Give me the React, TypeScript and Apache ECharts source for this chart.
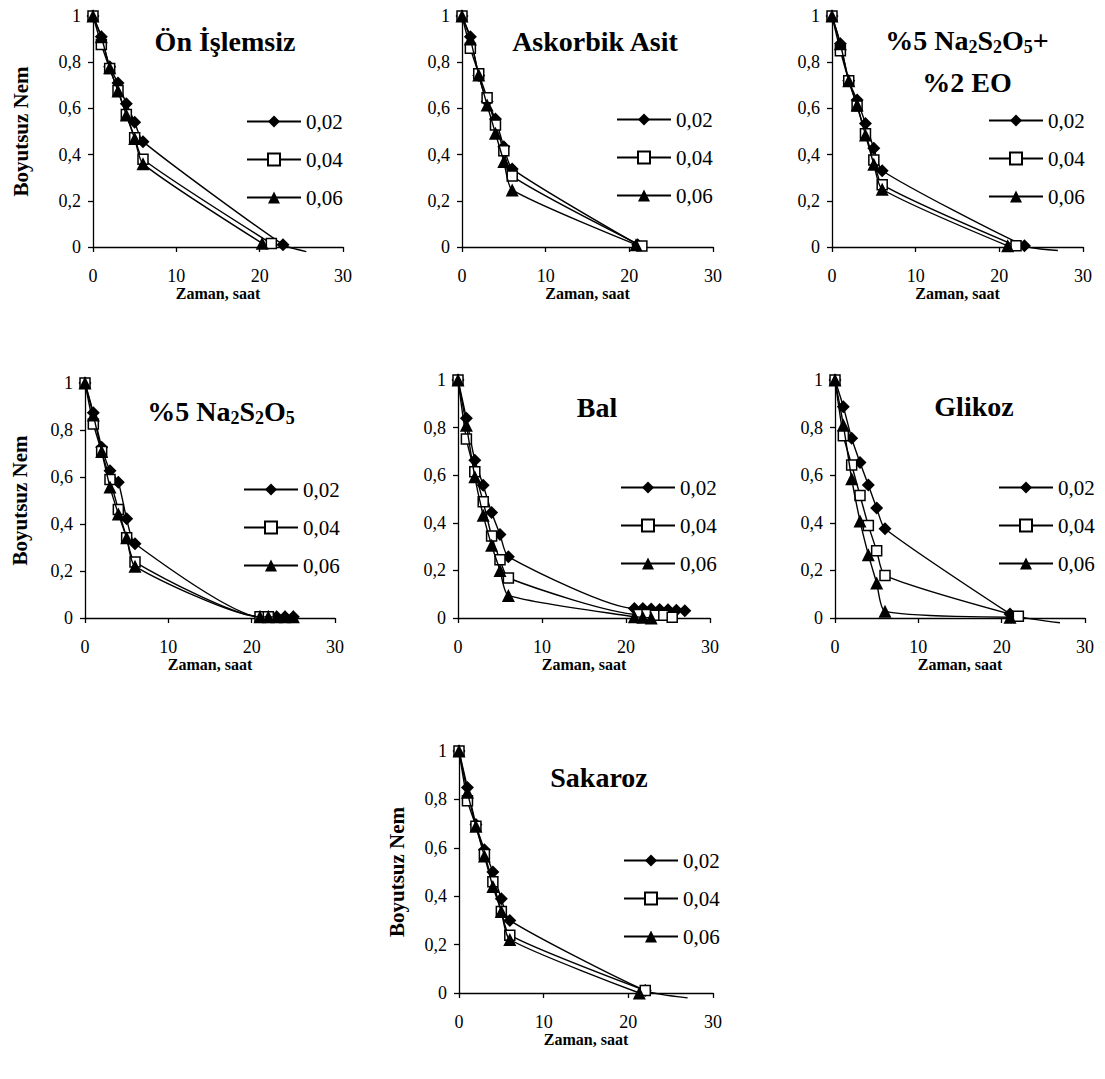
import React, { useEffect, useRef } from 'react';
import * as echarts from 'echarts';

const FONT = 'Liberation Serif, Times New Roman, serif';

const TIMES = [0, 1, 2, 3, 4, 5, 6];
const SERIES_NAMES = ['0,02', '0,04', '0,06'];
const X_MIN = 0;
const X_MAX = 30;
const X_STEP = 10;
const Y_MIN = 0;
const Y_MAX = 1;
const Y_STEP = 0.2;
const X_NAME = 'Zaman, saat';
const Y_NAME = 'Boyutsuz Nem';

// Ön İşlemsiz
const ON_002 = [1, 0.91, 0.78, 0.71, 0.62, 0.54, 0.456];
const ON_004 = [1, 0.877, 0.773, 0.677, 0.574, 0.473, 0.38];
const ON_006 = [1, 0.91, 0.776, 0.675, 0.571, 0.47, 0.36];
const ON_002_END = [[22.8, 0.01]];
const ON_004_END = [[21.4, 0.015]];
const ON_006_END = [[20.3, 0.016]];
const ON_002_TAIL = [[25.6, -0.02]];

// Askorbik Asit
const AA_002 = [1, 0.91, 0.742, 0.63, 0.554, 0.434, 0.338];
const AA_004 = [1, 0.86, 0.75, 0.646, 0.528, 0.417, 0.307];
const AA_006 = [1, 0.9, 0.745, 0.615, 0.492, 0.37, 0.247];
const AA_002_END = [[21, 0.01]];
const AA_004_END = [[21.5, 0.004]];
const AA_006_END = [[20.8, 0.01]];

// %5 Na2S2O5 + %2 EO
const NE_002 = [1, 0.88, 0.72, 0.636, 0.535, 0.427, 0.33];
const NE_004 = [1, 0.85, 0.72, 0.61, 0.49, 0.377, 0.27];
const NE_006 = [1, 0.88, 0.72, 0.615, 0.485, 0.358, 0.25];
const NE_002_END = [[23, 0.005]];
const NE_004_END = [[22, 0.005]];
const NE_006_END = [[21, 0.005]];
const NE_002_TAIL = [[27, -0.015]];

// %5 Na2S2O5
const NA_002 = [1, 0.873, 0.727, 0.627, 0.578, 0.422, 0.316];
const NA_004 = [1, 0.826, 0.708, 0.589, 0.462, 0.341, 0.238];
const NA_006 = [1, 0.864, 0.708, 0.557, 0.443, 0.341, 0.22];
const NA_002_END = [[21, 0.005], [22, 0.005], [23, 0.005], [24, 0.005], [25, 0.005]];
const NA_004_END = [[21, 0.005], [22, 0.005]];
const NA_006_END = [[21, 0.005], [22, 0.005], [23, 0.005], [24, 0.005], [25, 0.005]];

// Bal
const BAL_002 = [1, 0.839, 0.663, 0.558, 0.443, 0.351, 0.257];
const BAL_004 = [1, 0.752, 0.614, 0.488, 0.345, 0.245, 0.168];
const BAL_006 = [1, 0.81, 0.593, 0.432, 0.306, 0.2, 0.095];
const BAL_002_END = [[21, 0.04], [22, 0.04], [23, 0.038], [24, 0.036], [25, 0.035], [26, 0.033], [27, 0.03]];
const BAL_004_END = [[21.5, 0.015], [22.5, 0.015], [23.5, 0.012], [24.5, 0.012], [25.5, 0.003]];
const BAL_006_END = [[21, 0.005], [22, 0.003], [23, 0]];

// Glikoz
const GL_002 = [1, 0.888, 0.755, 0.653, 0.559, 0.462, 0.375];
const GL_004 = [1, 0.766, 0.643, 0.515, 0.389, 0.283, 0.179];
const GL_006 = [1, 0.811, 0.585, 0.408, 0.266, 0.147, 0.028];
const GL_002_END = [[21, 0.017]];
const GL_004_END = [[22, 0.007]];
const GL_006_END = [[21, 0.003]];
const GL_004_TAIL = [[27, -0.02]];

// Sakaroz
const SK_002 = [1, 0.849, 0.696, 0.592, 0.5, 0.389, 0.3];
const SK_004 = [1, 0.794, 0.689, 0.572, 0.46, 0.337, 0.239];
const SK_006 = [1, 0.83, 0.689, 0.566, 0.44, 0.337, 0.221];
const SK_002_END = [[22, 0.01]];
const SK_004_END = [[22, 0.01]];
const SK_006_END = [[21.3, 0]];
const SK_002_TAIL = [[27, -0.02]];

type Pair = number[];
type SeriesDef = { vals: number[]; end: Pair[]; tail?: Pair[] };

const PANELS: {
  grid: { left: number; top: number; width: number; height: number };
  legend: { left: number; top: number };
  yName: number | null;
  series: SeriesDef[];
}[] = [
  {
    grid: { left: 93, top: 16, width: 250, height: 231 },
    legend: { left: 246, top: 111 },
    yName: 62,
    series: [
      { vals: ON_002, end: ON_002_END, tail: ON_002_TAIL },
      { vals: ON_004, end: ON_004_END },
      { vals: ON_006, end: ON_006_END },
    ],
  },
  {
    grid: { left: 462, top: 16, width: 251, height: 231 },
    legend: { left: 616, top: 109 },
    yName: null,
    series: [
      { vals: AA_002, end: AA_002_END },
      { vals: AA_004, end: AA_004_END },
      { vals: AA_006, end: AA_006_END },
    ],
  },
  {
    grid: { left: 832, top: 16, width: 251, height: 231 },
    legend: { left: 988, top: 110 },
    yName: null,
    series: [
      { vals: NE_002, end: NE_002_END, tail: NE_002_TAIL },
      { vals: NE_004, end: NE_004_END },
      { vals: NE_006, end: NE_006_END },
    ],
  },
  {
    grid: { left: 85, top: 383, width: 250, height: 235 },
    legend: { left: 243, top: 479 },
    yName: 55,
    series: [
      { vals: NA_002, end: NA_002_END },
      { vals: NA_004, end: NA_004_END },
      { vals: NA_006, end: NA_006_END },
    ],
  },
  {
    grid: { left: 458, top: 380, width: 252, height: 238 },
    legend: { left: 620, top: 477 },
    yName: null,
    series: [
      { vals: BAL_002, end: BAL_002_END },
      { vals: BAL_004, end: BAL_004_END },
      { vals: BAL_006, end: BAL_006_END },
    ],
  },
  {
    grid: { left: 835, top: 380, width: 250, height: 238 },
    legend: { left: 998, top: 477 },
    yName: null,
    series: [
      { vals: GL_002, end: GL_002_END },
      { vals: GL_004, end: GL_004_END, tail: GL_004_TAIL },
      { vals: GL_006, end: GL_006_END },
    ],
  },
  {
    grid: { left: 459, top: 751, width: 254, height: 242 },
    legend: { left: 623, top: 850 },
    yName: 52,
    series: [
      { vals: SK_002, end: SK_002_END, tail: SK_002_TAIL },
      { vals: SK_004, end: SK_004_END },
      { vals: SK_006, end: SK_006_END },
    ],
  },
];

const SYMBOLS = [
  { symbol: 'diamond', size: 13, fill: '#000' },
  { symbol: 'rect', size: 10, fill: '#fff' },
  { symbol: 'triangle', size: 13, fill: '#000' },
];

const TITLE_RICH = {
  n: { fontSize: 28, fontWeight: 'bold', fontFamily: FONT, fill: '#000', lineHeight: 30, verticalAlign: 'top' },
  s: { fontSize: 18, fontWeight: 'bold', fontFamily: FONT, fill: '#000', lineHeight: 18, verticalAlign: 'top', padding: [12, 0, 0, 0] },
};

const TITLES = [
  { text: '{n|Ön İşlemsiz}', x: 225, y: 42 },
  { text: '{n|Askorbik Asit}', x: 595, y: 42 },
  { text: '{n|%5 Na}{s|2}{n|S}{s|2}{n|O}{s|5}{n|+}', x: 967, y: 41 },
  { text: '{n|%2 EO}', x: 967, y: 83 },
  { text: '{n|%5 Na}{s|2}{n|S}{s|2}{n|O}{s|5}', x: 221, y: 412 },
  { text: '{n|Bal}', x: 597, y: 408 },
  { text: '{n|Glikoz}', x: 974, y: 407 },
  { text: '{n|Sakaroz}', x: 599, y: 778 },
];

function fmtY(v: number) {
  if (v === 0) return '0';
  if (Math.abs(v - 1) < 1e-9) return '1';
  return v.toFixed(1).replace('.', ',');
}

export default function App() {
  const ref = useRef<HTMLDivElement>(null);
  useEffect(() => {
    if (!ref.current) return;
    const chart = echarts.init(ref.current, null, { renderer: 'svg' });

    const grids: any[] = [];
    const xAxes: any[] = [];
    const yAxes: any[] = [];
    const legends: any[] = [];
    const series: any[] = [];

    PANELS.forEach((p, i) => {
      grids.push({ ...p.grid, containLabel: false });
      xAxes.push({
        type: 'value',
        gridIndex: i,
        min: X_MIN,
        max: X_MAX,
        interval: X_STEP,
        name: X_NAME,
        nameLocation: 'middle',
        nameGap: 35,
        nameTextStyle: { fontFamily: FONT, fontWeight: 'bold', fontSize: 16, color: '#000' },
        axisLine: { show: true, onZero: false, lineStyle: { color: '#000', width: 1.3 } },
        axisTick: { show: true, inside: false, length: 5, lineStyle: { color: '#000', width: 1.3 } },
        axisLabel: { margin: 20, fontFamily: FONT, fontSize: 18, color: '#000' },
        splitLine: { show: false },
      });
      yAxes.push({
        type: 'value',
        gridIndex: i,
        min: Y_MIN,
        max: Y_MAX,
        interval: Y_STEP,
        name: p.yName != null ? Y_NAME : '',
        nameLocation: 'middle',
        nameGap: p.yName ?? 0,
        nameTextStyle: { fontFamily: FONT, fontWeight: 'bold', fontSize: 21, color: '#000' },
        axisLine: { show: true, onZero: false, lineStyle: { color: '#000', width: 1.3 } },
        axisTick: { show: true, inside: false, length: 5, lineStyle: { color: '#000', width: 1.3 } },
        axisLabel: { margin: 12, fontFamily: FONT, fontSize: 18, color: '#000', formatter: fmtY },
        splitLine: { show: false },
      });
      legends.push({
        data: SERIES_NAMES,
        orient: 'vertical',
        left: p.legend.left,
        top: p.legend.top,
        padding: 0,
        itemWidth: 54,
        itemHeight: 15,
        itemGap: 17,
        selectedMode: false,
        textStyle: { fontFamily: FONT, fontSize: 21, lineHeight: 21, color: '#000' },
      });
      p.series.forEach((s, k) => {
        const sym = SYMBOLS[k];
        const data: any[] = TIMES.map((t, j) => [t, s.vals[j]]);
        s.end.forEach((pt) => data.push(pt));
        (s.tail || []).forEach((pt) => data.push({ value: pt, symbol: 'none' }));
        series.push({
          type: 'line',
          name: SERIES_NAMES[k],
          xAxisIndex: i,
          yAxisIndex: i,
          data,
          smooth: 0.2,
          clip: false,
          symbol: sym.symbol,
          symbolSize: sym.size,
          showAllSymbol: true,
          lineStyle: { color: '#000', width: 1.4 },
          itemStyle: { color: sym.fill, borderColor: '#000', borderWidth: k === 1 ? 1.5 : 0 },
          emphasis: { disabled: true },
          z: 3 + k,
        });
      });
    });

    const graphics = TITLES.map((t) => ({
      type: 'text',
      x: t.x,
      y: t.y,
      style: {
        text: t.text,
        rich: TITLE_RICH,
        fontFamily: FONT,
        fontWeight: 'bold',
        fontSize: 28,
        fill: '#000',
        align: 'center',
        verticalAlign: 'middle',
      },
    }));

    chart.setOption({
      animation: false,
      backgroundColor: '#fff',
      textStyle: { fontFamily: FONT, color: '#000' },
      grid: grids,
      xAxis: xAxes,
      yAxis: yAxes,
      legend: legends,
      series,
      graphic: { elements: graphics },
    });
    return () => chart.dispose();
  }, []);
  return (
    <div
      ref={ref}
      style={{ position: 'absolute', left: 0, top: 0, width: 1105, height: 1079, background: '#fff' }}
    />
  );
}
